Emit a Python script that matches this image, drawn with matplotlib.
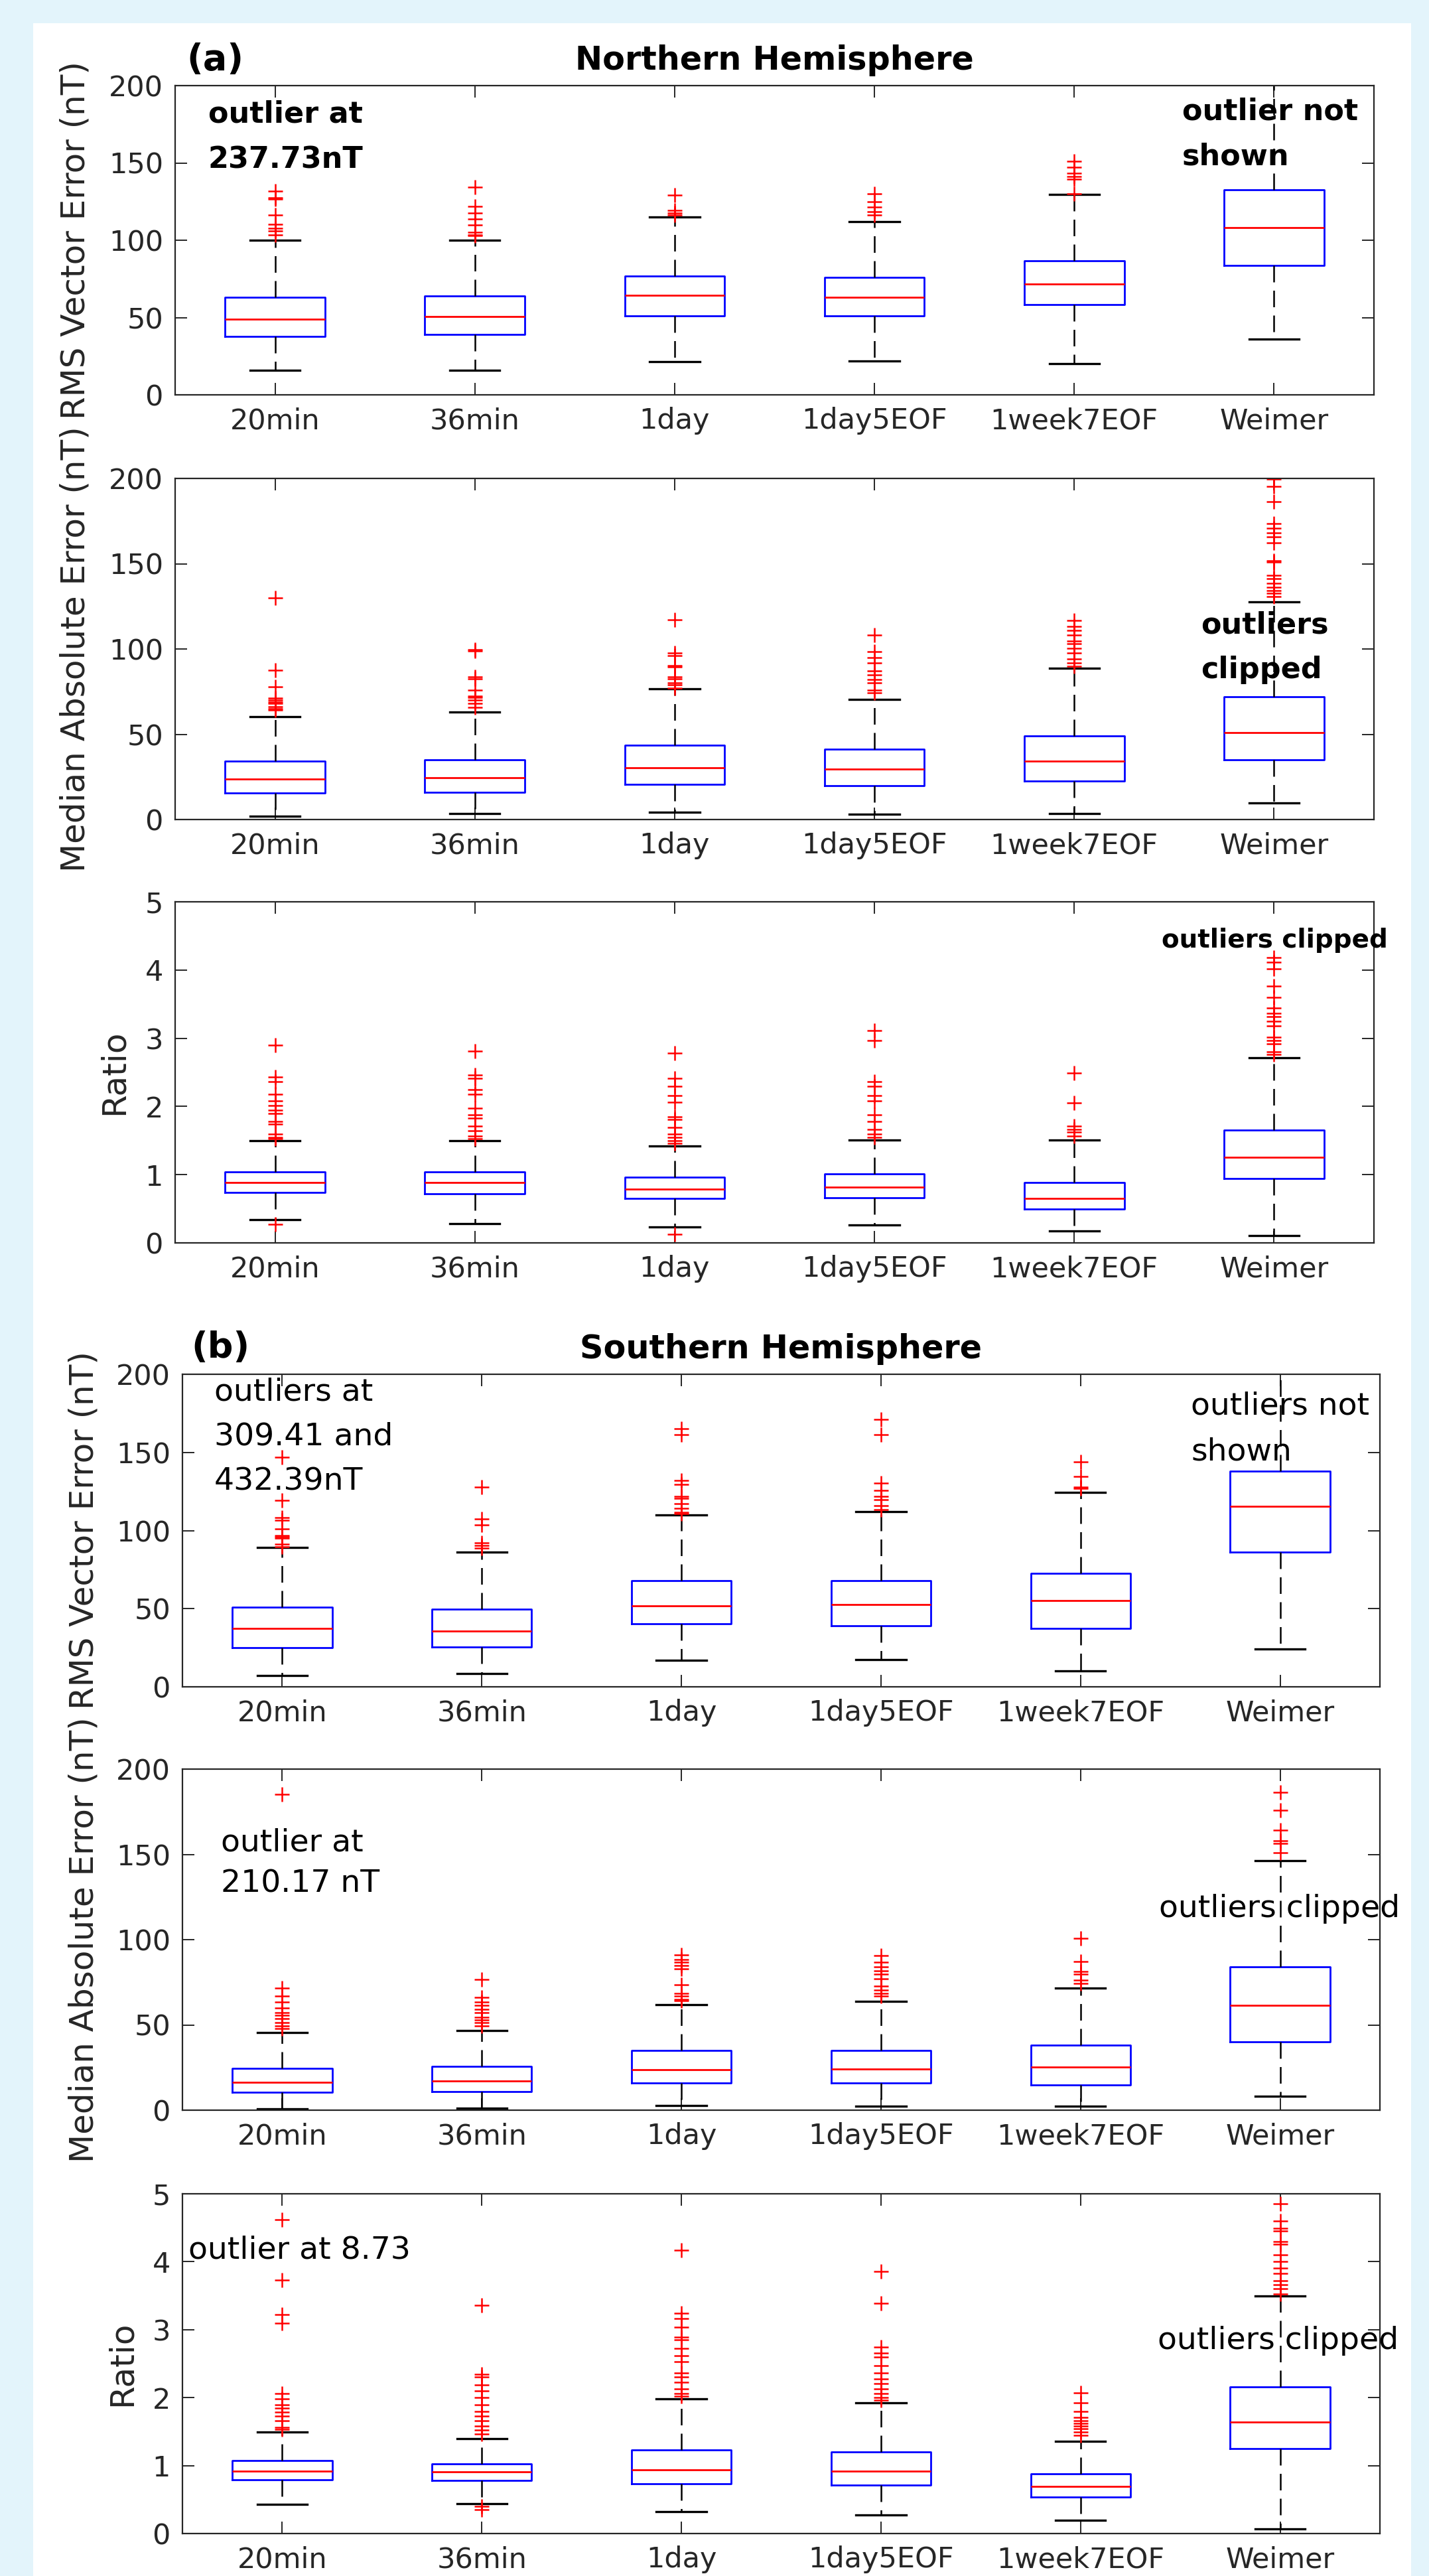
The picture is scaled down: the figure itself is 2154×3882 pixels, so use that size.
import matplotlib
matplotlib.use('Agg')
import matplotlib.pyplot as plt
from matplotlib.patches import Rectangle

# ---------------- data ----------------
categories = ['20min', '36min', '1day', '1day5EOF', '1week7EOF', 'Weimer']

# Northern hemisphere - RMS vector error (nT)
n_rms_q1 = [37.8, 39.2, 51.1, 51.1, 58.3, 83.7]
n_rms_med = [49.1, 50.5, 64.5, 63.3, 71.8, 108.3]
n_rms_q3 = [63.1, 64.1, 76.8, 75.8, 86.9, 132.8]
n_rms_lo = [15.7, 15.7, 21.5, 21.9, 20.0, 35.9]
n_rms_hi = [100.2, 100.2, 115.2, 112.1, 129.4, 215.0]
n_rms_out = [
    [131.9, 127.4, 126.7, 116.5, 110.4, 107.9, 106.0, 103.5],
    [134.4, 121.9, 117.8, 113.6, 109.8, 105.0, 103.6, 103.0],
    [129.0, 119.4, 117.8, 116.5],
    [130.0, 125.0, 121.3, 118.4, 116.5],
    [151.0, 147.2, 143.4, 141.0, 139.5, 130.0],
    [],
]

# Northern hemisphere - median absolute error (nT)
n_mae_q1 = [15.7, 16.0, 20.7, 20.0, 22.6, 35.1]
n_mae_med = [23.7, 24.7, 30.4, 29.6, 34.3, 51.1]
n_mae_q3 = [34.3, 35.1, 43.5, 41.2, 49.0, 72.0]
n_mae_lo = [2.1, 3.5, 4.2, 3.0, 3.5, 9.9]
n_mae_hi = [60.3, 63.0, 76.5, 70.4, 88.7, 127.7]
n_mae_out = [
    [130.0, 87.7, 77.7, 71.3, 69.9, 69.0, 68.2, 66.0, 65.0, 64.3],
    [99.5, 99.0, 83.8, 82.4, 76.0, 72.5, 71.7, 70.0, 68.2, 65.6],
    [117.2, 97.7, 96.3, 90.3, 89.4, 83.8, 82.4, 80.3, 79.0, 77.2],
    [108.2, 98.6, 95.1, 91.7, 87.3, 84.7, 82.1, 80.3, 76.0, 74.3],
    [116.9, 113.4, 110.8, 108.2, 104.7, 103.0, 100.3, 97.7, 94.3, 91.7, 90.0],
    [199.5, 195.5, 186.4, 173.4, 170.8, 168.2, 165.6, 162.1, 151.7, 150.8,
     143.0, 141.2, 138.6, 136.0, 134.3, 132.5, 130.8],
]

# Northern hemisphere - ratio
n_rat_q1 = [0.736, 0.72, 0.652, 0.666, 0.493, 0.945]
n_rat_med = [0.889, 0.885, 0.79, 0.82, 0.656, 1.257]
n_rat_q3 = [1.04, 1.04, 0.96, 1.015, 0.889, 1.657]
n_rat_lo = [0.34, 0.284, 0.237, 0.26, 0.177, 0.107]
n_rat_hi = [1.494, 1.494, 1.425, 1.504, 1.504, 2.714]
n_rat_out = [
    [2.9, 2.435, 2.365, 2.18, 2.086, 2.016, 1.946, 1.9, 1.78, 1.74, 1.6, 1.55, 1.53, 0.27],
    [2.81, 2.46, 2.41, 2.25, 2.18, 1.97, 1.88, 1.83, 1.71, 1.64, 1.57, 1.53],
    [2.78, 2.41, 2.3, 2.16, 2.06, 1.85, 1.81, 1.69, 1.6, 1.55, 1.5, 1.46, 0.13],
    [3.11, 2.97, 2.365, 2.3, 2.156, 2.086, 1.876, 1.78, 1.667, 1.6, 1.55],
    [2.49, 2.05, 1.71, 1.667, 1.62, 1.57],
    [4.18, 4.11, 4.02, 3.76, 3.6, 3.44, 3.37, 3.32, 3.25, 3.18, 3.02, 2.97, 2.92, 2.8, 2.76],
]

# Southern hemisphere - RMS vector error (nT)
s_rms_q1 = [25.0, 25.4, 40.2, 38.9, 37.3, 86.3]
s_rms_med = [37.3, 35.8, 51.6, 52.5, 55.2, 115.5]
s_rms_q3 = [51.0, 49.7, 68.1, 68.1, 72.8, 138.2]
s_rms_lo = [7.4, 8.5, 17.1, 17.4, 10.2, 24.1]
s_rms_hi = [89.1, 86.3, 109.8, 112.2, 124.5, 215.0]
s_rms_out = [
    [147.1, 119.2, 108.4, 106.5, 100.9, 97.0, 96.1, 95.2, 91.4, 89.5],
    [127.8, 107.5, 103.7, 92.3, 90.4, 88.9],
    [165.3, 161.5, 132.1, 129.7, 121.7, 120.8, 117.0, 114.1, 111.7, 110.9],
    [171.0, 161.5, 130.2, 125.5, 121.7, 119.8, 116.0, 113.2],
    [144.1, 134.4, 128.0, 127.0],
    [],
]

# Southern hemisphere - median absolute error (nT)
s_mae_q1 = [10.4, 10.9, 16.1, 16.1, 14.7, 40.2]
s_mae_med = [16.5, 17.0, 23.8, 24.3, 25.2, 61.6]
s_mae_q3 = [24.6, 25.5, 35.2, 35.2, 38.2, 84.1]
s_mae_lo = [0.9, 1.2, 2.6, 2.3, 2.3, 8.3]
s_mae_hi = [45.6, 46.8, 61.9, 63.8, 71.6, 146.2]
s_mae_out = [
    [185.3, 71.5, 66.8, 63.3, 59.9, 57.2, 55.5, 53.8, 51.2, 49.4, 47.7],
    [76.7, 66.0, 63.3, 61.6, 59.0, 57.2, 54.6, 52.9, 51.2, 49.4],
    [91.0, 88.4, 86.7, 85.0, 82.9, 73.5, 68.5, 66.8, 65.0, 64.2],
    [90.8, 86.7, 84.1, 81.8, 79.7, 77.2, 72.8, 70.3, 68.5, 66.8],
    [100.6, 87.2, 81.5, 79.7, 76.2, 74.5],
    [186.5, 175.7, 164.1, 158.0, 156.6, 151.1],
]

# Southern hemisphere - ratio
s_rat_q1 = [0.79, 0.78, 0.73, 0.71, 0.54, 1.25]
s_rat_med = [0.92, 0.91, 0.934, 0.92, 0.696, 1.64]
s_rat_q3 = [1.078, 1.027, 1.23, 1.205, 0.88, 2.16]
s_rat_lo = [0.433, 0.44, 0.327, 0.276, 0.2, 0.072]
s_rat_hi = [1.494, 1.4, 1.98, 1.92, 1.358, 3.5]
s_rat_out = [
    [4.62, 3.73, 3.22, 3.1, 2.06, 1.98, 1.89, 1.85, 1.79, 1.73, 1.66, 1.56, 1.53],
    [3.36, 2.34, 2.3, 2.19, 2.1, 2.0, 1.89, 1.8, 1.73, 1.66, 1.58, 1.52, 1.46, 0.4, 0.35],
    [4.17, 3.24, 3.16, 3.04, 2.89, 2.85, 2.72, 2.62, 2.53, 2.36, 2.3, 2.23, 2.13, 2.06, 2.02],
    [3.86, 3.39, 2.74, 2.66, 2.6, 2.47, 2.36, 2.28, 2.21, 2.13, 2.06, 2.0, 1.96],
    [2.07, 1.92, 1.8, 1.71, 1.66, 1.62, 1.58, 1.54, 1.49, 1.45],
    [4.85, 4.6, 4.49, 4.45, 4.3, 4.26, 4.1, 4.0, 3.91, 3.83, 3.72, 3.66, 3.6, 3.53],
]

nT_ticks = [0, 50, 100, 150, 200]
ratio_ticks = [0, 1, 2, 3, 4, 5]

# ---------------- figure ----------------
W, H = 2154, 3882
fig = plt.figure(figsize=(W / 100, H / 100), dpi=100, facecolor='#E3F4FB')

def frac_rect(l, t, r, b):
    return [l / W, 1 - b / H, (r - l) / W, (b - t) / H]

# white panels (behind everything)
for (l, t, r, b) in [(50, 35, 2127, 1975), (50, 1975, 2127, H)]:
    fig.patches.append(Rectangle((l / W, 1 - b / H), (r - l) / W, (b - t) / H,
                                 transform=fig.transFigure, facecolor='white',
                                 edgecolor='none', zorder=-10))

TXT = '#262626'

def make_stats(q1, med, q3, lo, hi, out):
    return [dict(q1=a, med=m, q3=c, whislo=w0, whishi=w1, fliers=f, label=lab)
            for a, m, c, w0, w1, f, lab in zip(q1, med, q3, lo, hi, out, categories)]

def draw(rect, stats, ylim, yticks, ylabel, labelx):
    ax = fig.add_axes(frac_rect(*rect))
    ax.bxp(stats, positions=range(1, 7), widths=0.5, capwidths=0.25,
           boxprops=dict(color='#0000FF', lw=2.0),
           medianprops=dict(color='#FF0000', lw=2.0),
           whiskerprops=dict(color='black', lw=1.8, linestyle=(0, (10, 5))),
           capprops=dict(color='black', lw=2.4),
           flierprops=dict(marker='+', markeredgecolor='#FF0000', markersize=16,
                           markeredgewidth=1.8, linestyle='none'))
    ax.set_xlim(0.5, 6.5)
    ax.set_ylim(*ylim)
    ax.set_yticks(yticks)
    ax.set_xticks(range(1, 7))
    ax.set_xticklabels(categories)
    ax.tick_params(direction='in', length=13, width=1.4, top=True, right=True,
                   labelsize=31, colors=TXT, pad=13)
    for s in ax.spines.values():
        s.set_linewidth(1.6)
        s.set_color(TXT)
    ax.set_ylabel(ylabel, fontsize=36, color=TXT)
    ax.yaxis.set_label_coords(labelx, 0.5)
    return ax

BOLD = dict(fontsize=32, fontweight='bold', color='black')
REG = dict(fontsize=34, color='black')

# ---- Northern hemisphere ----
a1 = draw((264, 129, 2071, 595),
          make_stats(n_rms_q1, n_rms_med, n_rms_q3, n_rms_lo, n_rms_hi, n_rms_out),
          (0, 200), nT_ticks, 'RMS Vector Error (nT)', -0.070)
a1.set_title('Northern Hemisphere', fontsize=35.5, fontweight='bold', pad=17)
a1.text(0.0094, 1.0515, '(a)', transform=a1.transAxes, fontsize=39,
        fontweight='bold', ha='left', va='baseline')
a1.text(0.666, 176.0, 'outlier at', ha='left', va='baseline', **BOLD)
a1.text(0.666, 146.4, '237.73nT', ha='left', va='baseline', **BOLD)
a1.text(5.54, 177.7, 'outlier not', ha='left', va='baseline', **BOLD)
a1.text(5.54, 148.9, 'shown', ha='left', va='baseline', **BOLD)

a2 = draw((264, 721, 2071, 1235),
          make_stats(n_mae_q1, n_mae_med, n_mae_q3, n_mae_lo, n_mae_hi, n_mae_out),
          (0, 200), nT_ticks, 'Median Absolute Error (nT)', -0.070)
a2.text(5.633, 109.0, 'outliers', ha='left', va='baseline', **BOLD)
a2.text(5.633, 82.9, 'clipped', ha='left', va='baseline', **BOLD)

a3 = draw((264, 1359, 2071, 1873),
          make_stats(n_rat_q1, n_rat_med, n_rat_q3, n_rat_lo, n_rat_hi, n_rat_out),
          (0, 5), ratio_ticks, 'Ratio', -0.0376)
a3.text(5.437, 4.333, 'outliers clipped', ha='left', va='baseline',
        fontsize=28, fontweight='bold', color='black')

# ---- Southern hemisphere ----
b1 = draw((275, 2071, 2080, 2542),
          make_stats(s_rms_q1, s_rms_med, s_rms_q3, s_rms_lo, s_rms_hi, s_rms_out),
          (0, 200), nT_ticks, 'RMS Vector Error (nT)', -0.0687)
b1.set_title('Southern Hemisphere', fontsize=35.5, fontweight='bold', pad=17)
b1.text(0.0072, 1.053, '(b)', transform=b1.transAxes, fontsize=39,
        fontweight='bold', ha='left', va='baseline')
b1.text(0.660, 183.4, 'outliers at', ha='left', va='baseline', **REG)
b1.text(0.660, 154.6, '309.41 and', ha='left', va='baseline', **REG)
b1.text(0.660, 125.7, '432.39nT', ha='left', va='baseline', **REG)
b1.text(5.553, 174.1, 'outliers not', ha='left', va='baseline', **REG)
b1.text(5.553, 145.2, 'shown', ha='left', va='baseline', **REG)

b2 = draw((275, 2666, 2080, 3180),
          make_stats(s_mae_q1, s_mae_med, s_mae_q3, s_mae_lo, s_mae_hi, s_mae_out),
          (0, 200), nT_ticks, 'Median Absolute Error (nT)', -0.0687)
b2.text(0.693, 151.8, 'outlier at', ha='left', va='baseline', **REG)
b2.text(0.693, 128.0, '210.17 nT', ha='left', va='baseline', **REG)
b2.text(5.393, 113.2, 'outliers clipped', ha='left', va='baseline', **REG)

b3 = draw((275, 3306, 2080, 3818),
          make_stats(s_rat_q1, s_rat_med, s_rat_q3, s_rat_lo, s_rat_hi, s_rat_out),
          (0, 5), ratio_ticks, 'Ratio', -0.0371)
b3.text(0.530, 4.048, 'outlier at 8.73', ha='left', va='baseline', **REG)
b3.text(5.387, 2.717, 'outliers clipped', ha='left', va='baseline', **REG)

fig.savefig('out.png', dpi=100, facecolor=fig.get_facecolor())
